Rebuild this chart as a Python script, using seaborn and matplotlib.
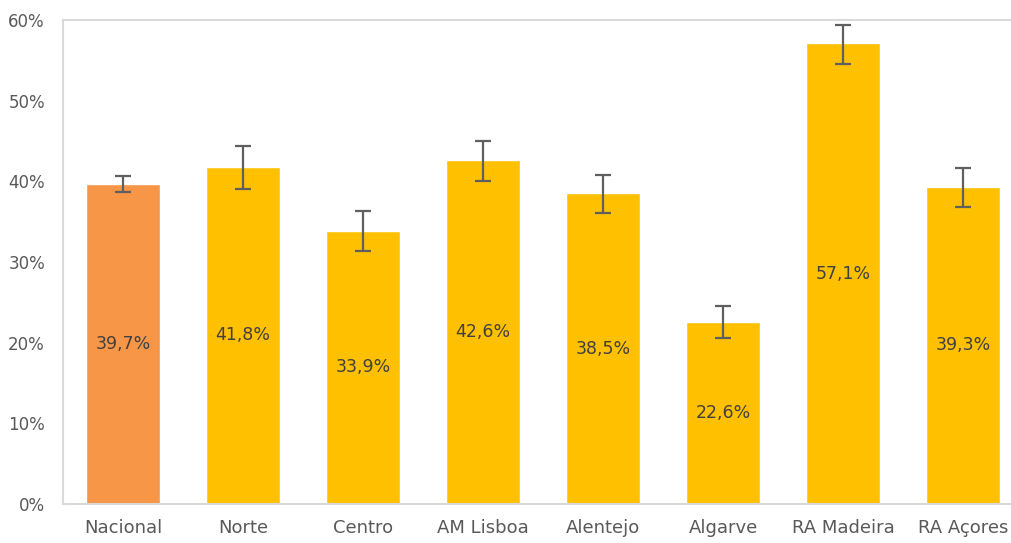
import matplotlib
matplotlib.use("Agg")
import matplotlib.pyplot as plt
import seaborn as sns
import pandas as pd
from matplotlib.ticker import FuncFormatter

regioes = ["Nacional", "Norte", "Centro", "AM Lisboa", "Alentejo", "Algarve", "RA Madeira", "RA Açores"]
valores = [39.7, 41.8, 33.9, 42.6, 38.5, 22.6, 57.1, 39.3]
erro_inf = [1.0, 2.8, 2.5, 2.5, 2.4, 2.0, 2.5, 2.5]
erro_sup = [0.9, 2.6, 2.4, 2.4, 2.3, 1.9, 2.3, 2.4]
cores = ["#F79646"] + ["#FFC000"] * 7

sns.set_theme(style="white")
plt.rcParams["font.family"] = ["DejaVu Sans"]

texto = "#595959"
df = pd.DataFrame({"regiao": regioes, "valor": valores})

fig = plt.figure(figsize=(10.12, 5.43), dpi=100)
ax = fig.add_axes([63 / 1012, 39 / 543, 960 / 1012, 484 / 543])

sns.barplot(data=df, x="regiao", y="valor", hue="regiao", palette=cores,
            width=0.61, saturation=1, legend=False, ax=ax)

ax.errorbar(range(len(regioes)), valores, yerr=[erro_inf, erro_sup], fmt="none",
            ecolor="#5F5F5F", elinewidth=1.6, capsize=6, capthick=1.6)

for i, v in enumerate(valores):
    ax.text(i, v / 2, f"{v:.1f}%".replace(".", ","), ha="center", va="center",
            fontsize=12.5, color="#404040")

ax.set_ylim(0, 60)
ax.set_xlim(-0.5, len(regioes) - 0.5)
ax.set_yticks(range(0, 61, 10))
ax.yaxis.set_major_formatter(FuncFormatter(lambda y, _: f"{int(y)}%"))
ax.set_xlabel("")
ax.set_ylabel("")
ax.tick_params(axis="x", length=0, labelsize=13, colors=texto, pad=11)
ax.tick_params(axis="y", length=0, labelsize=12, colors=texto, pad=13)
for s in ax.spines.values():
    s.set_color("#D9D9D9")
    s.set_linewidth(1.5)

fig.savefig("out.png", dpi=100)
